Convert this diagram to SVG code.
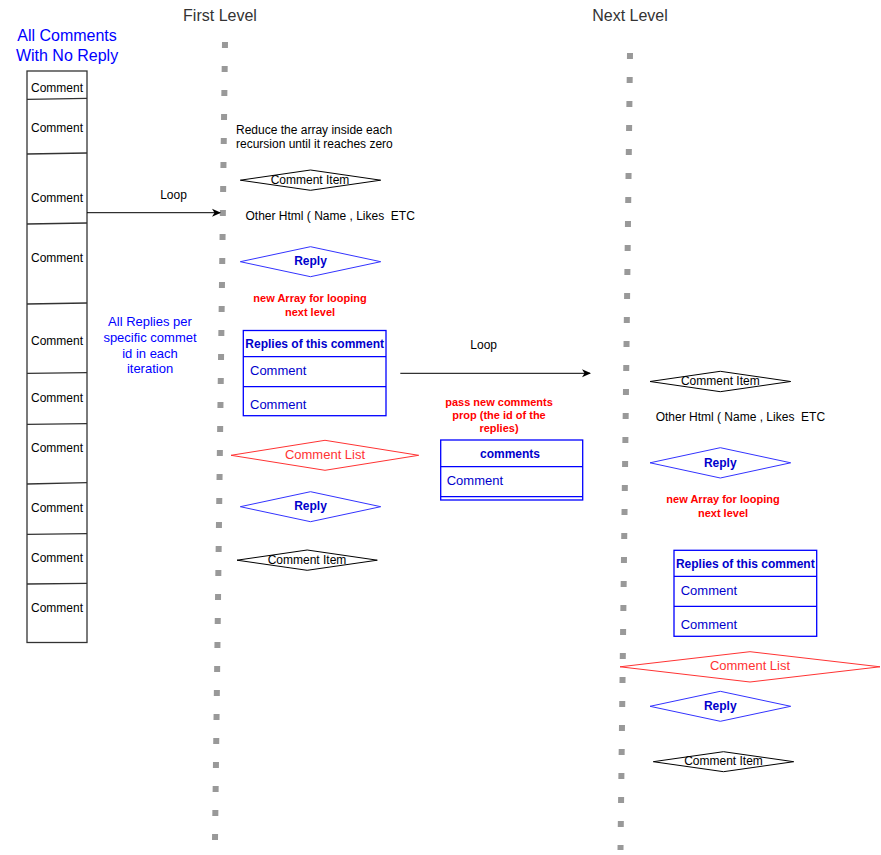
<svg xmlns="http://www.w3.org/2000/svg" width="881" height="855" viewBox="0 0 881 855">
<style>
text{font-family:"Liberation Sans",Arial,sans-serif;}
.t12{font-size:12px;fill:#000;}
.t13b{font-size:13px;fill:#0000CC;}
.ttl{font-size:16px;fill:#333333;text-anchor:middle;}
.blue16{font-size:16px;fill:#0000FF;text-anchor:middle;}
.blue13{font-size:13px;fill:#0000FF;text-anchor:middle;}
.bb{font-size:12px;font-weight:bold;fill:#0000CC;text-anchor:middle;}
.rb{font-size:11px;font-weight:bold;fill:#FF0000;text-anchor:middle;}
.rl{font-size:13px;fill:#FF3333;text-anchor:middle;}
.c{text-anchor:middle;}
.dots{stroke:#999999;stroke-width:6;stroke-dasharray:6 18;fill:none;}
.dk{fill:#FFFFFF;stroke:#000000;stroke-width:1;}
.db{fill:#FFFFFF;stroke:#3333FF;stroke-width:1;}
.dr{fill:#FFFFFF;stroke:#FF3333;stroke-width:1;}
.tb{fill:#FFFFFF;stroke:#0000FF;stroke-width:1.3;}
.tl{stroke:#0000FF;stroke-width:1.3;}
.box{fill:#FFFFFF;stroke:#333333;stroke-width:1.3;}
.div{stroke:#333333;stroke-width:1.3;}
.arr{stroke:#000000;stroke-width:1;fill:none;marker-end:url(#ah);}
</style>
<defs>
<marker id="ah" markerWidth="10" markerHeight="10" refX="8" refY="5" orient="auto" markerUnits="userSpaceOnUse">
<path d="M0,1 L9,5 L0,9 L2.5,5 Z" fill="#000000"/>
</marker>
</defs>
<rect width="881" height="855" fill="#FFFFFF"/>

<g id="titles">
<text class="ttl" x="220" y="21">First Level</text>
<text class="ttl" x="630" y="21">Next Level</text>
<text class="blue16" x="67" y="41">All Comments</text>
<text class="blue16" x="67" y="61">With No Reply</text>
</g>

<g id="lifelines">
<line class="dots" x1="225" y1="42" x2="215" y2="840"/>
<line class="dots" x1="630" y1="53" x2="620.5" y2="850"/>
</g>

<g id="comment-list-left">
<rect class="box" x="27" y="71" width="60" height="571.5"/>
<line class="div" x1="27" y1="99.3" x2="87" y2="98.3"/>
<line class="div" x1="27" y1="154" x2="87" y2="153"/>
<line class="div" x1="27" y1="224" x2="87" y2="223"/>
<line class="div" x1="27" y1="304" x2="87" y2="303"/>
<line class="div" x1="27" y1="373.3" x2="87" y2="372.6"/>
<line class="div" x1="27" y1="424.3" x2="87" y2="423.6"/>
<line class="div" x1="27" y1="484" x2="87" y2="482.7"/>
<line class="div" x1="27" y1="534.3" x2="87" y2="533.6"/>
<line class="div" x1="27" y1="584" x2="87" y2="583.3"/>
<text class="t12 c" x="57" y="92">Comment</text>
<text class="t12 c" x="57" y="132">Comment</text>
<text class="t12 c" x="57" y="202">Comment</text>
<text class="t12 c" x="57" y="262">Comment</text>
<text class="t12 c" x="57" y="345">Comment</text>
<text class="t12 c" x="57" y="402">Comment</text>
<text class="t12 c" x="57" y="452">Comment</text>
<text class="t12 c" x="57" y="512">Comment</text>
<text class="t12 c" x="57" y="562">Comment</text>
<text class="t12 c" x="57" y="612">Comment</text>
</g>

<g id="connectors">
<line class="arr" x1="87" y1="212.7" x2="220" y2="212.7"/>
<line class="arr" x1="400.3" y1="373.3" x2="590" y2="373.3"/>
</g>

<g id="labels-first">
<text class="t12 c" x="173.5" y="199">Loop</text>
<text class="t12" x="236" y="133.6">Reduce the array inside each</text>
<text class="t12" x="236" y="148">recursion until it reaches zero</text>
<text class="t12" x="245.5" y="220" xml:space="preserve">Other Html ( Name , Likes  ETC</text>
<text class="rb" x="310" y="302.3">new Array for looping</text>
<text class="rb" x="310" y="316.3">next level</text>
<text class="blue13" x="150" y="326.3">All Replies per</text>
<text class="blue13" x="150" y="342">specific commet</text>
<text class="blue13" x="150" y="358">id in each</text>
<text class="blue13" x="150" y="373.4">iteration</text>
</g>

<g id="comment-item-1">
<polygon class="dk" points="240.3,180.2 310.5,170 380.7,180.2 310.5,190.3"/>
<text class="t12 c" x="310" y="184">Comment Item</text>
</g>

<g id="reply-1">
<polygon class="db" points="240.3,261.7 310.5,246.7 380.7,261.7 310.5,276.7"/>
<text class="bb" x="310.5" y="265">Reply</text>
</g>

<g id="replies-table-1">
<rect class="tb" x="243.3" y="330.5" width="142.7" height="85.2"/>
<line class="tl" x1="243.3" y1="356.7" x2="386" y2="356.7"/>
<line class="tl" x1="243.3" y1="386.7" x2="386" y2="386.7"/>
<text class="bb" x="314.7" y="348">Replies of this comment</text>
<text class="t13b" x="250" y="375">Comment</text>
<text class="t13b" x="250" y="409">Comment</text>
</g>

<g id="comment-list-1">
<polygon class="dr" points="231,455.3 325,440.3 418.7,455.3 325,470.3"/>
<text class="rl" x="325" y="459">Comment List</text>
</g>

<g id="reply-2">
<polygon class="db" points="240.3,506.7 310.5,491.7 380.7,506.7 310.5,521.7"/>
<text class="bb" x="310.5" y="510">Reply</text>
</g>

<g id="comment-item-2">
<polygon class="dk" points="237,560.2 307.2,550 377.3,560.2 307.2,570.3"/>
<text class="t12 c" x="307" y="563.6">Comment Item</text>
</g>

<g id="labels-middle">
<text class="t12 c" x="483.7" y="349">Loop</text>
<text class="rb" x="499" y="406.2">pass new comments</text>
<text class="rb" x="499" y="419.2">prop (the id of the</text>
<text class="rb" x="499" y="432.2">replies)</text>
</g>

<g id="comments-table">
<rect class="tb" x="440.7" y="440" width="142" height="60"/>
<line class="tl" x1="440.7" y1="466.7" x2="582.7" y2="466.7"/>
<line class="tl" x1="440.7" y1="496.7" x2="582.7" y2="496.7"/>
<text class="bb" x="510" y="458">comments</text>
<text class="t13b" x="446.7" y="485">Comment</text>
</g>

<g id="comment-item-3">
<polygon class="dk" points="650,381.5 720.3,371.3 790.7,381.5 720.3,391.7"/>
<text class="t12 c" x="720.3" y="385">Comment Item</text>
</g>

<g id="labels-next">
<text class="t12" x="655.7" y="421" xml:space="preserve">Other Html ( Name , Likes  ETC</text>
<text class="rb" x="723" y="503.2">new Array for looping</text>
<text class="rb" x="723" y="517.2">next level</text>
</g>

<g id="reply-3">
<polygon class="db" points="650,462.8 720.3,447.7 790.7,462.8 720.3,478"/>
<text class="bb" x="720.3" y="467">Reply</text>
</g>

<g id="replies-table-2">
<rect class="tb" x="674" y="550.3" width="142.7" height="86"/>
<line class="tl" x1="674" y1="576.3" x2="816.7" y2="576.3"/>
<line class="tl" x1="674" y1="606.3" x2="816.7" y2="606.3"/>
<text class="bb" x="745.3" y="568">Replies of this comment</text>
<text class="t13b" x="680.7" y="595">Comment</text>
<text class="t13b" x="680.7" y="629">Comment</text>
</g>

<g id="comment-list-2">
<polygon class="dr" points="620,666.8 750,651.7 880,666.8 750,682"/>
<text class="rl" x="750" y="670">Comment List</text>
</g>

<g id="reply-4">
<polygon class="db" points="650,706.3 720.3,691.3 790.7,706.3 720.3,721.3"/>
<text class="bb" x="720.3" y="710.3">Reply</text>
</g>

<g id="comment-item-4">
<polygon class="dk" points="653.3,761.7 723.5,751.7 793.7,761.7 723.5,771.7"/>
<text class="t12 c" x="723.5" y="765">Comment Item</text>
</g>
</svg>
